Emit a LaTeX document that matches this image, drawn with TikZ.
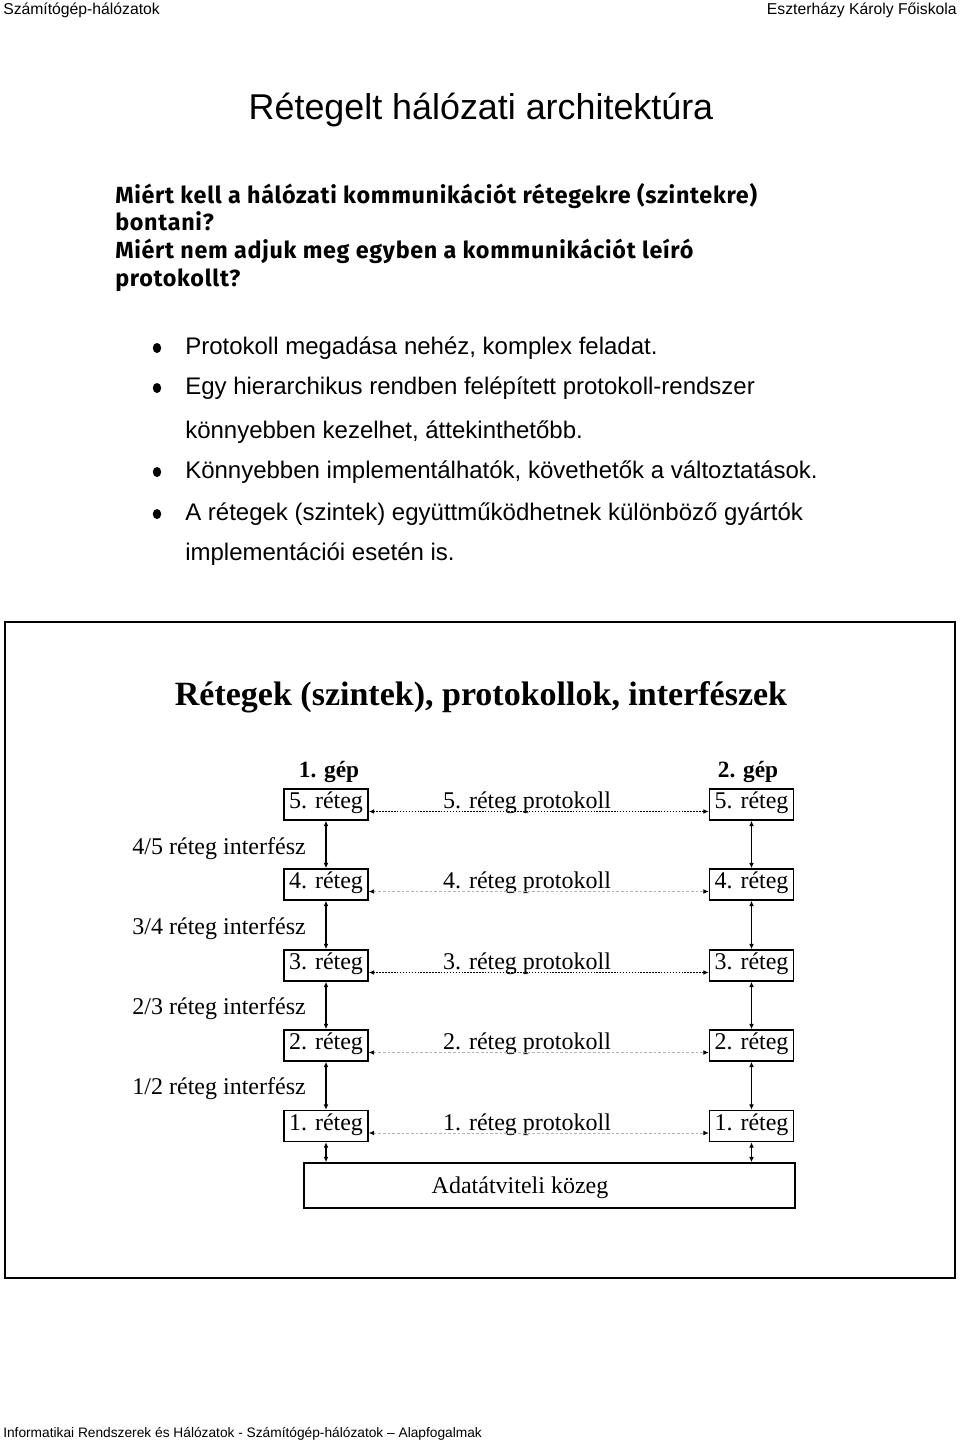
\documentclass[tikz,border=0pt]{standalone}
\usepackage{fontspec}
\setmainfont{Liberation Sans}
\newfontfamily\serifd{Liberation Serif}
\newfontfamily\qfont[LetterSpace=3]{Fira Sans}
\usetikzlibrary{arrows.meta,calc}
\begin{document}
\begin{tikzpicture}[x=0.75pt,y=-0.75pt,
  hdr/.style={inner sep=0pt,font=\fontsize{11.8}{14}\selectfont},
  ftr/.style={inner sep=0pt,font=\fontsize{10.3}{12}\selectfont},
  ttl/.style={inner sep=0pt,font=\fontsize{26.9}{30}\selectfont},
  qst/.style={inner sep=0pt,anchor=base west,font=\qfont\bfseries\fontsize{17.5}{19}\selectfont},
  blt/.style={inner sep=0pt,anchor=base west,font=\fontsize{18}{20}\selectfont},
  dtitle/.style={inner sep=0pt,font=\serifd\bfseries\fontsize{25.5}{28}\selectfont},
  gep/.style={inner sep=0pt,font=\serifd\bfseries\fontsize{17.5}{20}\selectfont},
  lay/.style={draw,line width=1.1pt,minimum width=63pt,minimum height=23.25pt,inner sep=0pt,
    text height=0.9em,text depth=0.24em,font=\serifd\fontsize{18}{20}\selectfont},
  dtxt/.style={inner sep=0pt,text height=0.9em,text depth=0.24em,font=\serifd\fontsize{18}{20}\selectfont},
  vert/.style={line width=0.8pt,{Latex[length=4pt,width=3.5pt]}-{Latex[length=4pt,width=3.5pt]}},
  pdot/.style={line width=1.2pt,dash pattern=on 1.1pt off 1.1pt,{Latex[length=4pt,width=3.5pt]}-{Latex[length=4pt,width=3.5pt]}},
  pdash/.style={line width=0.6pt,gray!60,dash pattern=on 2pt off 1.5pt,
    {Latex[length=4pt,width=3.5pt,black]}-{Latex[length=4pt,width=3.5pt,black]}}]
\useasboundingbox (0,0) rectangle (960,1442);
\fill[white] (0,0) rectangle (960,1442);

% header / footer
\node[hdr,anchor=base west] (h1) at (3,14) {Számítógép-hálózatok};
\node[hdr,anchor=base east] (h2) at (957,14) {Eszterházy Károly Főiskola};
\node[ftr,anchor=base west] (f1) at (3,1437) {Informatikai Rendszerek és Hálózatok - Számítógép-hálózatok – Alapfogalmak};

% title
\node[ttl] (title) at (481,110) {Rétegelt hálózati architektúra};

% questions
\node[qst] (q1) at (115,203) {Miért kell a hálózati kommunikációt rétegekre (szintekre)};
\node[qst] (q2) at (115,230) {bontani?};
\node[qst] (q3) at (115,258) {Miért nem adjuk meg egyben a kommunikációt leíró};
\node[qst] (q4) at (115,286) {protokollt?};

% bullets
\foreach \yy in {347,387,471,513} {\fill (157,\yy+1) ellipse (4.2 and 5);}
\node[blt] (b1) at (185,354) {Protokoll megadása nehéz, komplex feladat.};
\node[blt] (b2) at (185,394) {Egy hierarchikus rendben felépített protokoll-rendszer};
\node[blt] (b2b) at (185,438) {könnyebben kezelhet, áttekinthetőbb.};
\node[blt] (b3) at (185,478) {Könnyebben implementálhatók, követhetők a változtatások.};
\node[blt] (b4) at (185,520) {A rétegek (szintek) együttműködhetnek különböző gyártók};
\node[blt] (b4b) at (185,560) {implementációi esetén is.};

% frame
\draw[line width=2.2pt] (5,622) rectangle (955,1278);

% diagram
\node[dtitle] (dt) at (481,697) {Rétegek (szintek), protokollok, interfészek};
\node[gep] (g1) at (329,772) {1. gép};
\node[gep] (g2) at (748,772) {2. gép};

\foreach \n/\yy in {5/804.5,4/884.5,3/965.5,2/1045.5,1/1126} {
  \node[lay] (L\n) at (326,\yy) {\n. réteg};
  \node[lay] (R\n) at (751.5,\yy) {\n. réteg};
  \node[dtxt] (P\n) at (527,\yy) {\n. réteg protokoll};
}
\foreach \a/\b in {5/4,4/3,3/2,2/1} {
  \draw[vert] (L\a.south) -- (L\b.north);
  \draw[vert] (R\a.south) -- (R\b.north);
}
\draw[pdot] ($(L5.east)+(0,7)$) -- ($(R5.west)+(0,7)$);
\draw[pdash] ($(L4.east)+(0,7)$) -- ($(R4.west)+(0,7)$);
\draw[pdot] ($(L3.east)+(0,7)$) -- ($(R3.west)+(0,7)$);
\draw[pdash] ($(L2.east)+(0,7)$) -- ($(R2.west)+(0,7)$);
\draw[pdash] ($(L1.east)+(0,7)$) -- ($(R1.west)+(0,7)$);

\node[dtxt,anchor=east] (I45) at (306,850) {4/5 réteg interfész};
\node[dtxt,anchor=east] (I34) at (306,930) {3/4 réteg interfész};
\node[dtxt,anchor=east] (I23) at (306,1010) {2/3 réteg interfész};
\node[dtxt,anchor=east] (I12) at (306,1090) {1/2 réteg interfész};

\node[draw,line width=1.1pt,minimum width=368.25pt,minimum height=33.75pt,inner sep=0pt] (K) at (549.5,1185.5) {};
\node[dtxt] (KT) at (520,1189) {Adatátviteli közeg};
\draw[vert] (L1.south) -- (L1.south |- K.north);
\draw[vert] (R1.south) -- (R1.south |- K.north);
\end{tikzpicture}
\end{document}
